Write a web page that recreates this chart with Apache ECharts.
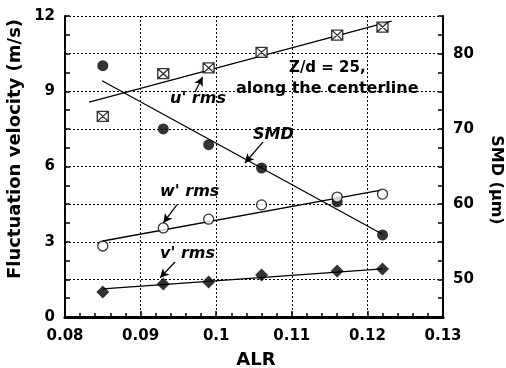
<!DOCTYPE html>
<html>
<head>
<meta charset="utf-8">
<script src="https://cdn.jsdelivr.net/npm/echarts@6/dist/echarts.min.js"></script>
<style>
  html, body { margin: 0; padding: 0; background: #fff; }
  #chart { width: 506px; height: 368px; }
</style>
</head>
<body>
<div id="chart"></div>
<script>
// measured values (ALR on x)
const alr = [0.085, 0.093, 0.099, 0.106, 0.116, 0.122];
const uRms = [8.0, 9.7, 9.93, 10.55, 11.24, 11.56];
const wRms = [2.83, 3.55, 3.9, 4.47, 4.78, 4.9];
const vRms = [1.0, 1.32, 1.4, 1.67, 1.83, 1.91];
const smd = [78.4, 70.0, 67.9, 64.8, 60.3, 55.9];

// fitted trend lines (end points)
const uFit = [[0.0832, 8.57], [0.1232, 11.8]];
const wFit = [[0.085, 3.03], [0.122, 5.07]];
const vFit = [[0.085, 1.12], [0.122, 1.92]];
const smdFit = [[0.0849, 76.4], [0.122, 56.0]];

// annotation arrows: [tail, head] in data coords (left axis)
const arrows = [
  [[0.0972, 8.97], [0.0982, 9.57]],
  [[0.1062, 6.98], [0.1038, 6.14]],
  [[0.0948, 4.47], [0.0930, 3.75]],
  [[0.09455, 2.19], [0.09257, 1.56]]
];

const font = "'DejaVu Sans', Arial, sans-serif";
const zip = (xs, ys) => xs.map((x, i) => [x, ys[i]]);
const crossSquare = 'path://M0,0L10,0L10,10L0,10Z M0,0L10,10 M10,0L0,10';

const fitLine = (data, yIdx) => ({
  type: 'line', data, yAxisIndex: yIdx, symbol: 'none', silent: true,
  lineStyle: { color: '#000', width: 1.3 }, z: 2
});

const chart = echarts.init(document.getElementById('chart'), null, { renderer: 'canvas' });
chart.setOption({
  animation: false,
  backgroundColor: '#fff',
  grid: { left: 65, right: 63, top: 16, bottom: 51, show: false },
  xAxis: [{
    type: 'value', min: 0.08, max: 0.13, interval: 0.01,
    axisLine: { show: true, onZero: false, lineStyle: { color: '#000', width: 2.5 } },
    axisTick: { inside: true, length: 6, lineStyle: { color: '#000', width: 1.5 } },
    minorTick: { show: true, splitNumber: 5, length: 4, lineStyle: { color: '#000', width: 1.5 } },
    axisLabel: { color: '#000', fontFamily: font, fontWeight: 'bold', fontSize: 15, margin: 12 },
    splitLine: { show: true, lineStyle: { color: '#000', width: 1, type: [2, 2] } }
  }, {
    type: 'value', position: 'top', min: 0.08, max: 0.13,
    axisLine: { show: true, lineStyle: { color: '#000', width: 3 } },
    axisTick: { show: false }, axisLabel: { show: false }, splitLine: { show: false }
  }],
  yAxis: [{
    type: 'value', min: 0, max: 12, interval: 1.5,
    axisLine: { show: true, onZero: false, lineStyle: { color: '#000', width: 2 } },
    axisTick: { inside: true, length: 5, lineStyle: { color: '#000', width: 1.5 } },
    minorTick: { show: true, splitNumber: 2, length: 5, lineStyle: { color: '#000', width: 1.5 } },
    axisLabel: {
      color: '#000', fontFamily: font, fontWeight: 'bold', fontSize: 15, margin: 10,
      formatter: v => (Math.abs(v % 3) < 1e-6 ? String(v) : '')
    },
    splitLine: { show: true, lineStyle: { color: '#000', width: 1, type: [2, 2] } }
  }, {
    type: 'value', position: 'right', min: 45, max: 85, interval: 5,
    axisLine: { show: true, onZero: false, lineStyle: { color: '#000', width: 2 } },
    axisTick: { inside: true, length: 5, lineStyle: { color: '#000', width: 1.5 } },
    minorTick: { show: true, splitNumber: 2, length: 5, lineStyle: { color: '#000', width: 1.5 } },
    axisLabel: {
      color: '#000', fontFamily: font, fontWeight: 'bold', fontSize: 15, margin: 10,
      formatter: v => (v % 10 === 0 ? String(v) : '')
    },
    splitLine: { show: false }
  }],
  series: [
    fitLine(uFit, 0),
    fitLine(wFit, 0),
    fitLine(vFit, 0),
    fitLine(smdFit, 1),
    {
      type: 'scatter', name: "u'rms", data: zip(alr, uRms), symbol: crossSquare, symbolSize: [11, 10],
      itemStyle: { color: '#fff', borderColor: '#000', borderWidth: 1.3 }, z: 3
    },
    {
      type: 'scatter', name: 'SMD', yAxisIndex: 1, data: zip(alr, smd), symbol: 'circle', symbolSize: 11,
      itemStyle: { color: '#000' }, z: 3
    },
    {
      type: 'scatter', name: "w'rms", data: zip(alr, wRms), symbol: 'circle', symbolSize: 10,
      itemStyle: { color: '#fff', borderColor: '#000', borderWidth: 1.3 }, z: 3
    },
    {
      type: 'scatter', name: "v'rms", data: zip(alr, vRms), symbol: 'diamond', symbolSize: 13,
      itemStyle: { color: '#000' }, z: 3
    },
    {
      type: 'line', data: [], silent: true,
      markLine: {
        silent: true, animation: false,
        symbol: ['none', 'arrow'], symbolSize: [7, 9],
        label: { show: false },
        lineStyle: { color: '#000', width: 1.3, type: 'solid' },
        data: arrows.map(a => [{ coord: a[0] }, { coord: a[1] }])
      }
    }
  ],
  graphic: [
    { type: 'text', left: 170, top: 91, style: { text: "u' rms", font: 'italic bold 16px ' + font, fill: '#000' } },
    { type: 'text', left: 253, top: 127, style: { text: 'SMD', font: 'italic bold 16px ' + font, fill: '#000' } },
    { type: 'text', left: 160, top: 184, style: { text: "w' rms", font: 'italic bold 16px ' + font, fill: '#000' } },
    { type: 'text', left: 160, top: 246, style: { text: "v' rms", font: 'italic bold 16px ' + font, fill: '#000' } },
    { type: 'text', left: 289, top: 61, style: { text: 'Z/d = 25,', font: 'bold 15px ' + font, fill: '#000' } },
    { type: 'text', left: 236, top: 81, style: { text: 'along the centerline', font: 'bold 16px ' + font, fill: '#000' } },
    { type: 'text', x: 15, y: 149, rotation: Math.PI / 2,
      style: { text: 'Fluctuation velocity (m/s)', font: 'bold 18px ' + font, fill: '#000', align: 'center', verticalAlign: 'middle' } },
    { type: 'text', x: 496, y: 180, rotation: -Math.PI / 2,
      style: { text: 'SMD (μm)', font: 'bold 16px ' + font, fill: '#000', align: 'center', verticalAlign: 'middle' } },
    { type: 'text', x: 256, y: 360,
      style: { text: 'ALR', font: 'bold 18px ' + font, fill: '#000', align: 'center', verticalAlign: 'middle' } }
  ]
});
</script>
</body>
</html>
